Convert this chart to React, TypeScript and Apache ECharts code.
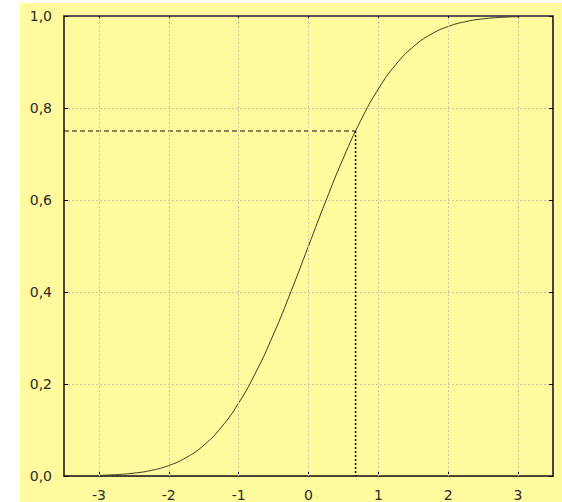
import React, { useEffect, useRef } from "react";
import * as echarts from "echarts";

const xValues = [-3, -2.75, -2.5, -2.25, -2, -1.75, -1.5, -1.25, -1, -0.75, -0.5, -0.25, 0, 0.25, 0.5, 0.75, 1, 1.25, 1.5, 1.75, 2, 2.25, 2.5, 2.75, 3];
const yValues = [0.0013, 0.003, 0.0062, 0.0122, 0.0228, 0.0401, 0.0668, 0.1056, 0.1587, 0.2266, 0.3085, 0.4013, 0.5, 0.5987, 0.6915, 0.7734, 0.8413, 0.8944, 0.9332, 0.9599, 0.9772, 0.9878, 0.9938, 0.997, 0.9987];
const xTicks = [-3, -2, -1, 0, 1, 2, 3];
const yTicks = [0, 0.2, 0.4, 0.6, 0.8, 1.0];
const guideLevel = 0.75;
const guideX = 0.674;
const xMin = -3.5;
const xMax = 3.5;

export default function App() {
  const ref = useRef<HTMLDivElement>(null);
  useEffect(() => {
    document.body.style.margin = "0";
    if (!ref.current) return;
    const chart = echarts.init(ref.current, null, { renderer: "svg" });
    const curve = xValues.map((x, i) => [x, yValues[i]]);
    const font = { fontFamily: "DejaVu Sans", fontSize: 14, color: "#2a2a2a" };
    const gridLine = { show: true, lineStyle: { color: "#c9c6a0", type: [2, 2] as any, width: 1 } };
    chart.setOption({
      animation: false,
      backgroundColor: "#fffa9e",
      grid: { left: 44, top: 13, width: 489, height: 462, containLabel: false },
      xAxis: [
        {
          type: "value",
          min: xMin,
          max: xMax,
          position: "bottom",
          axisLine: { show: true, onZero: false, lineStyle: { color: "#111", width: 1.5 } },
          axisTick: { show: true, inside: true, length: 4, customValues: xTicks, lineStyle: { color: "#111" } },
          axisLabel: { customValues: xTicks, margin: 12, ...font, formatter: (v: number) => String(v) },
          splitLine: { show: false },
        },
        {
          type: "value",
          min: xMin,
          max: xMax,
          position: "top",
          axisLine: { show: true, onZero: false, lineStyle: { color: "#555", width: 2 } },
          axisTick: { show: true, inside: true, length: 4, customValues: xTicks, lineStyle: { color: "#111" } },
          axisLabel: { show: false },
          splitLine: { show: false },
        },
      ],
      yAxis: [
        {
          type: "value",
          min: 0,
          max: 1,
          interval: 0.2,
          position: "left",
          axisLine: { show: true, onZero: false, lineStyle: { color: "#111", width: 1.5 } },
          axisTick: { show: true, inside: true, length: 4, lineStyle: { color: "#111" } },
          axisLabel: { margin: 12, ...font, formatter: (v: number) => v.toFixed(1).replace(".", ",") },
          splitLine: gridLine,
        },
        {
          type: "value",
          min: 0,
          max: 1,
          interval: 0.2,
          position: "right",
          axisLine: { show: true, onZero: false, lineStyle: { color: "#444", width: 2 } },
          axisTick: { show: true, inside: true, length: 4, lineStyle: { color: "#111" } },
          axisLabel: { show: false },
          splitLine: { show: false },
        },
      ],
      series: [
        {
          type: "line",
          data: xTicks.map((x) => [x, 0]),
          symbol: "none",
          lineStyle: { width: 0, opacity: 0 },
          silent: true,
          markLine: {
            silent: true,
            symbol: "none",
            label: { show: false },
            lineStyle: { color: "#c9c6a0", type: [2, 2], width: 1 },
            data: xTicks.map((x) => ({ xAxis: x })),
          },
        },
        {
          type: "line",
          data: curve,
          smooth: true,
          symbol: "none",
          lineStyle: { color: "#3b3a22", width: 1 },
        },
        {
          type: "line",
          data: [[xMin, guideLevel], [guideX, guideLevel]],
          symbol: "none",
          lineStyle: { color: "#111", width: 1, type: [5, 3] },
        },
        {
          type: "line",
          data: [[guideX, guideLevel], [guideX, 0]],
          symbol: "none",
          lineStyle: { color: "#111", width: 1.5, type: [2, 2] },
        },
      ],
    });
    return () => chart.dispose();
  }, []);
  return (
    <div style={{ position: "relative", width: 562, height: 502, background: "#fff" }}>
      <div ref={ref} style={{ position: "absolute", left: 20, top: 3, width: 542, height: 499 }} />
    </div>
  );
}
